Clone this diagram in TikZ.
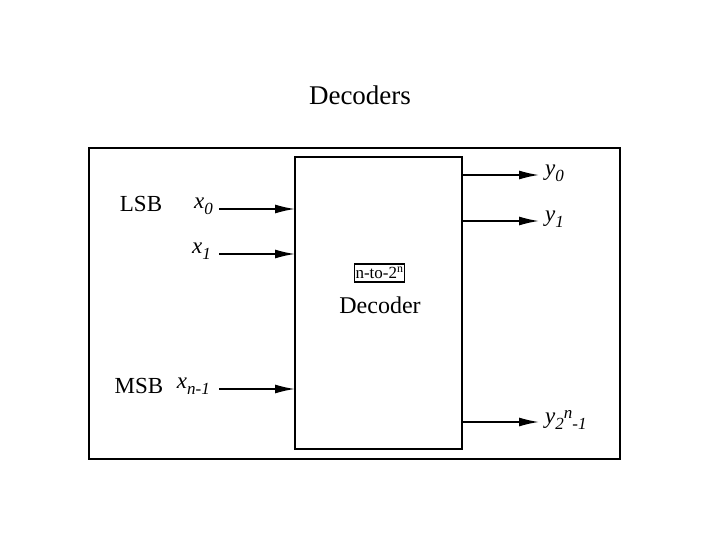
\documentclass[tikz,border=0pt]{standalone}
\usepackage{fontspec}
\setmainfont{Liberation Serif}
\usetikzlibrary{arrows.meta}
\newcommand{\sub}[1]{\raisebox{-0.6ex}{\fontsize{17}{17}\selectfont\itshape #1}}
\begin{document}
\begin{tikzpicture}[x=1pt,y=-1pt,
  lbl/.style={inner sep=0pt,font=\fontsize{23}{23}\selectfont},
  sig/.style={inner sep=0pt,font=\fontsize{23}{23}\selectfont\itshape},
  wire/.style={line width=1.6pt,-{Latex[length=20pt,width=9pt]}}]
\useasboundingbox (0,0) rectangle (720,540);
\node[inner sep=0pt,font=\fontsize{27}{27}\selectfont] (title) at (360,95) {Decoders};
\draw[line width=2.2pt] (89,148) rectangle (620,459);
\draw[line width=2.2pt] (295,157) rectangle (462,449);
\node[draw,line width=1.2pt,inner sep=0.8pt,minimum height=18pt,font=\fontsize{17}{17}\selectfont] (nto) at (379.5,273) {n-to-2\textsuperscript{n}};
\node[lbl,font=\fontsize{24}{24}\selectfont] (dec) at (380,305) {Decoder};
% inputs
\coordinate (i0) at (295,209);
\coordinate (i1) at (295,254);
\coordinate (i2) at (295,389);
\coordinate (s0) at (219,209);
\coordinate (s1) at (219,254);
\coordinate (s2) at (219,389);
\draw[wire] (s0) -- (i0);
\draw[wire] (s1) -- (i1);
\draw[wire] (s2) -- (i2);
\node[lbl] (lsb) at (141,204) {LSB};
\node[lbl] (msb) at (139,386) {MSB};
\node[sig,anchor=east] (x0) at (213,206) {x\sub{0}};
\node[sig,anchor=east] (x1) at (211,251) {x\sub{1}};
\node[sig,anchor=east] (x2) at (210,386) {x\sub{n-1}};
% outputs
\coordinate (o0) at (462,175);
\coordinate (o1) at (462,221);
\coordinate (o2) at (462,422);
\coordinate (e0) at (539,175);
\coordinate (e1) at (539,221);
\coordinate (e2) at (539,422);
\draw[wire] (o0) -- (e0);
\draw[wire] (o1) -- (e1);
\draw[wire] (o2) -- (e2);
\node[sig,anchor=west] (y0) at (545,173) {y\sub{0}};
\node[sig,anchor=west] (y1) at (545,219) {y\sub{1}};
\node[sig,anchor=west] (y2) at (545,420) {y\sub{2}\raisebox{0.5ex}{\fontsize{17}{17}\selectfont\itshape n}\sub{-1}};
\end{tikzpicture}
\end{document}
